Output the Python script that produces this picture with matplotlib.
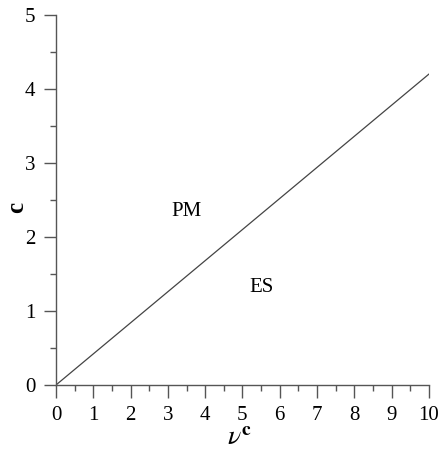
import numpy as np
import matplotlib.pyplot as plt
from matplotlib.ticker import MultipleLocator

nu_c = [0, 10]
c_boundary = [0, 4.2]
region_labels = ['PM', 'ES']
region_x = [3.5, 5.5]
region_y = [2.35, 1.32]

plt.rcParams['font.family'] = 'Liberation Serif'
plt.rcParams['mathtext.fontset'] = 'stix'

fig = plt.figure(figsize=(4.38, 4.55), dpi=100)
ax = fig.add_axes([0.128, 0.154, 0.851, 0.813])

ax.plot(nu_c, c_boundary, color='#444444', linewidth=0.9)
for lab, x, y in zip(region_labels, region_x, region_y):
    ax.text(x, y, lab, fontsize=15, ha='center', va='center')

ax.set_xlim(0, 10)
ax.set_ylim(0, 5)
ax.xaxis.set_major_locator(MultipleLocator(1))
ax.xaxis.set_minor_locator(MultipleLocator(0.5))
ax.yaxis.set_major_locator(MultipleLocator(1))
ax.yaxis.set_minor_locator(MultipleLocator(0.5))

for s in ['top', 'right']:
    ax.spines[s].set_visible(False)
for s in ['left', 'bottom']:
    ax.spines[s].set_color('#555555')
    ax.spines[s].set_linewidth(1.0)

ax.tick_params(axis='both', which='major', direction='out', length=9,
               width=1.0, color='#555555', labelsize=15, pad=6)
ax.tick_params(axis='both', which='minor', direction='out', length=4,
               width=1.0, color='#555555')

ax.set_xlabel(r'$\nu^{\mathbf{c}}$', fontsize=20, va='center')
ax.xaxis.set_label_coords(0.493, -0.145)
ax.set_ylabel('c', fontsize=18, fontweight='bold', rotation=90, va='center')
ax.yaxis.set_label_coords(-0.107, 0.48)

plt.savefig('out.png', dpi=100)
